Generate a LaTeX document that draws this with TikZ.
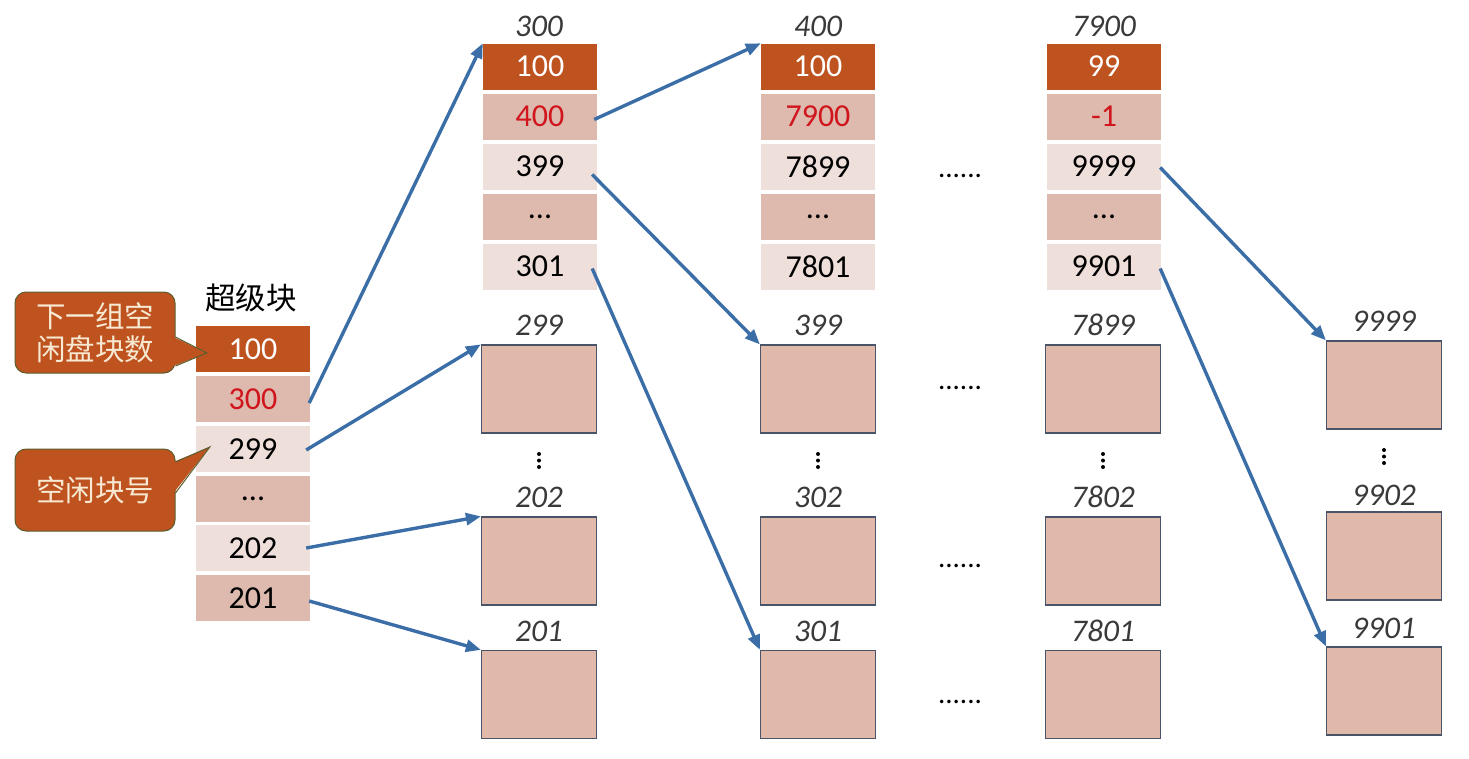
\documentclass[tikz,border=0pt]{standalone}
\usepackage{fontspec}
\setmainfont{Carlito}
\newfontfamily\cjk{Noto Sans CJK SC}
\usetikzlibrary{arrows.meta}

\definecolor{hdr}{HTML}{BE5320}
\definecolor{midrow}{HTML}{DDB9AE}
\definecolor{lightrow}{HTML}{EEDFDA}
\definecolor{blk}{HTML}{E0B9AA}
\definecolor{blkedge}{HTML}{4A5468}
\definecolor{linkblue}{HTML}{3B6EA6}
\definecolor{ptrred}{HTML}{D0151C}
\definecolor{calloutedge}{HTML}{5B5E2C}
\definecolor{callouttext}{HTML}{F7E9D2}
\definecolor{labelgray}{HTML}{3A3A3A}

\tikzset{
  cell/.style={minimum width=114pt, minimum height=46pt, inner sep=0pt,
    font=\fontsize{32}{34}\selectfont},
  hdrcell/.style={cell, fill=hdr, text=white},
  midcell/.style={cell, fill=midrow},
  lightcell/.style={cell, fill=lightrow},
  nextptr/.style={text=ptrred},
  diskblk/.style={draw=blkedge, line width=1.2pt, fill=blk,
    minimum width=115pt, minimum height=88pt, inner sep=0pt},
  blklabel/.style={font=\fontsize{31.5}{33}\selectfont\itshape, text=labelgray},
  hdots/.style={font=\fontsize{29}{30}\selectfont, anchor=base},
  vdotsnode/.style={minimum width=4pt, minimum height=18pt, inner sep=0pt},
  link/.style={draw=linkblue, line width=3.4pt,
    -{Triangle[length=15pt,width=12pt]}},
  calloutbox/.style={draw=calloutedge, line width=1pt, fill=hdr,
    rounded corners=11pt, text=callouttext, align=center,
    font=\cjk\fontsize{29.5}{33}\selectfont, inner sep=0pt},
}

\begin{document}
\begin{tikzpicture}[x=1pt,y=-1pt]
\useasboundingbox (0,0) rectangle (1469,758);

% ---- super block ----
\node[font=\cjk\fontsize{30.5}{32}\selectfont] (sbtitle) at (251,298) {超级块};
\node[hdrcell]            (sb1) at (253,349) {100};
\node[midcell,nextptr]    (sb2) at (253,399) {300};
\node[lightcell]          (sb3) at (253,449) {299};
\node[midcell]            (sb4) at (253,498.5) {...};
\node[lightcell]          (sb5) at (253,548) {202};
\node[midcell]            (sb6) at (253,598) {201};

% ---- group block 300 ----
\node[blklabel] (gal) at (539,26) {300};
\node[hdrcell]         (ga1) at (540,66.5)  {100};
\node[midcell,nextptr] (ga2) at (540,116.5) {400};
\node[lightcell]       (ga3) at (540,166.5) {399};
\node[midcell]         (ga4) at (540,216.5) {...};
\node[lightcell]       (ga5) at (540,266.5) {301};

% ---- group block 400 ----
\node[blklabel] (gbl) at (818,26) {400};
\node[hdrcell]         (gb1) at (818,66.5)  {100};
\node[midcell,nextptr] (gb2) at (818,116.5) {7900};
\node[lightcell]       (gb3) at (818,166.5) {7899};
\node[midcell]         (gb4) at (818,216.5) {...};
\node[lightcell]       (gb5) at (818,266.5) {7801};

% ---- group block 7900 ----
\node[blklabel] (gcl) at (1104,26) {7900};
\node[hdrcell]         (gc1) at (1104,66.5)  {99};
\node[midcell,nextptr] (gc2) at (1104,116.5) {-1};
\node[lightcell]       (gc3) at (1104,166.5) {9999};
\node[midcell]         (gc4) at (1104,216.5) {...};
\node[lightcell]       (gc5) at (1104,266.5) {9901};

% ---- free disk blocks ----
\node[diskblk] (b299) at (539,389)   {};
\node[diskblk] (b202) at (539,561)   {};
\node[diskblk] (b201) at (539,694.5) {};
\node[blklabel] (l299) at (539,325) {299};
\node[blklabel] (l202) at (539,497) {202};
\node[blklabel] (l201) at (539,631) {201};
\node[vdotsnode] (vd1) at (539,460.5) {};

\node[diskblk] (b399) at (818,389)   {};
\node[diskblk] (b302) at (818,561)   {};
\node[diskblk] (b301) at (818,694.5) {};
\node[blklabel] (l399) at (818,325) {399};
\node[blklabel] (l302) at (818,497) {302};
\node[blklabel] (l301) at (818,631) {301};
\node[vdotsnode] (vd2) at (818,460.5) {};

\node[diskblk] (b7899) at (1103,389)   {};
\node[diskblk] (b7802) at (1103,561)   {};
\node[diskblk] (b7801) at (1103,694.5) {};
\node[blklabel] (l7899) at (1103,325) {7899};
\node[blklabel] (l7802) at (1103,497) {7802};
\node[blklabel] (l7801) at (1103,631) {7801};
\node[vdotsnode] (vd3) at (1103,460.5) {};

\node[diskblk] (b9999) at (1384,385)   {};
\node[diskblk] (b9902) at (1384,556)   {};
\node[diskblk] (b9901) at (1384,691)   {};
\node[blklabel] (l9999) at (1384,321) {9999};
\node[blklabel] (l9902) at (1384,495) {9902};
\node[blklabel] (l9901) at (1384,628) {9901};
\node[vdotsnode] (vd4) at (1384,456.5) {};

% vertical ellipsis dots
\foreach \v in {vd1,vd2,vd3,vd4}{
  \fill ([yshift=6.5pt]\v.center) circle (2pt);
  \fill (\v.center) circle (2pt);
  \fill ([yshift=-6.5pt]\v.center) circle (2pt);
}

% ---- horizontal ellipses between groups ----
\node[hdots] (hd1) at (960,177) {......};
\node[hdots] (hd2) at (960,389) {......};
\node[hdots] (hd3) at (960,567) {......};
\node[hdots] (hd4) at (960,703) {......};

% ---- callouts ----
\node[calloutbox, minimum width=160pt, minimum height=81pt] (co1) at (95,332.5)
  {下一组空\\闲盘块数};
\coordinate (tip1) at ([xshift=11pt,yshift=-4pt]sb1.west);
\fill[hdr] ([xshift=-2pt,yshift=-4.5pt]co1.east) -- (tip1) -- ([xshift=-2pt,yshift=-33.5pt]co1.east) -- cycle;
\draw[calloutedge, line width=1pt] ([yshift=-4.5pt]co1.east) -- (tip1) -- ([yshift=-33.5pt]co1.east);

\node[calloutbox, minimum width=160pt, minimum height=82pt] (co2) at (95,490)
  {空闲块号};
\coordinate (tip2) at ([xshift=14pt,yshift=2pt]sb3.west);
\fill[hdr] ([xshift=-2pt,yshift=28pt]co2.east) -- (tip2) -- ([xshift=-2pt,yshift=-3pt]co2.east) -- cycle;
\draw[calloutedge, line width=1pt] ([yshift=28pt]co2.east) -- (tip2) -- ([yshift=-3pt]co2.east);

% ---- links ----
\draw[link] ([xshift=-1pt,yshift=-4pt]sb2.east) -- (ga1.north west);
\draw[link] ([xshift=-4pt,yshift=-1pt]sb3.east) -- (b299.north west);
\draw[link] ([xshift=-4pt,yshift=0pt]sb5.east) -- (b202.north west);
\draw[link] ([xshift=-1pt,yshift=-3pt]sb6.east) -- (b201.north west);
\draw[link] ([xshift=-3pt,yshift=-3pt]ga2.east) -- (gb1.north west);
\draw[link] ([xshift=-5pt,yshift=-8pt]ga3.east) -- (b399.north west);
\draw[link] ([xshift=-5pt,yshift=-2pt]ga5.east) -- (b301.north west);
\draw[link] ([xshift=-1pt,yshift=-1pt]gc3.east) -- (b9999.north west);
\draw[link] ([xshift=-1pt,yshift=-2pt]gc5.east) -- (b9901.north west);
\end{tikzpicture}
\end{document}
